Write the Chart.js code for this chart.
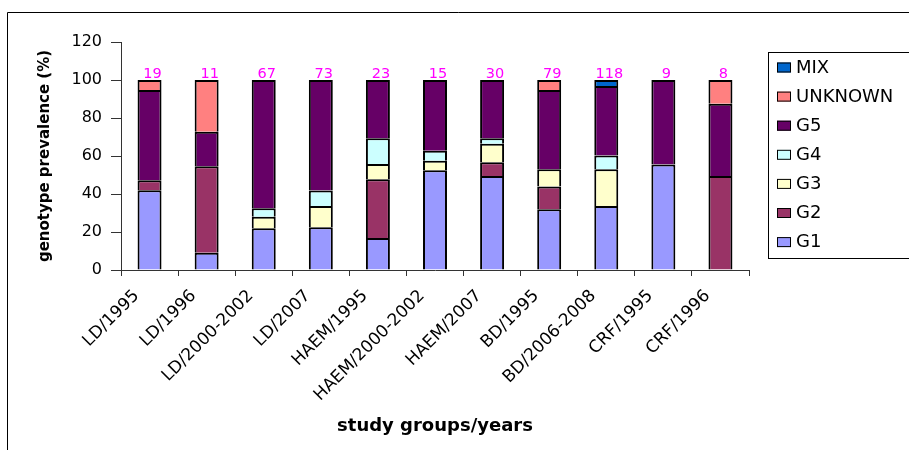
<!DOCTYPE html>
<html>
<head>
<meta charset="utf-8">
<script src="https://cdn.jsdelivr.net/npm/chart.js@4.4.1/dist/chart.umd.min.js"></script>
<style>
  html, body { margin: 0; padding: 0; background: #fff; }
  canvas { display: block; }
</style>
</head>
<body>
<canvas id="c" width="909" height="450"></canvas>
<script>
// ---- data ----
const categories = ['LD/1995','LD/1996','LD/2000-2002','LD/2007','HAEM/1995','HAEM/2000-2002','HAEM/2007','BD/1995','BD/2006-2008','CRF/1995','CRF/1996'];
const sampleSizes = [19, 11, 67, 73, 23, 15, 30, 79, 118, 9, 8];
const G1      = [42.0,  9.1, 22.0, 22.5, 16.8, 52.5, 49.5, 32.0, 33.7, 55.5,  0];
const G2      = [ 5.3, 45.5,  0,    0,   30.9,  0,    7.2, 12.0,  0,    0,   49.5];
const G3      = [ 0,    0,    6.0, 11.2,  8.1,  5.0,  9.8,  9.0, 19.3,  0,    0];
const G4      = [ 0,    0,    4.5,  8.2, 13.5,  5.3,  2.8,  0,    7.3,  0,    0];
const G5      = [47.4, 18.2, 67.5, 58.1, 30.7, 37.2, 30.7, 41.7, 36.5, 44.5, 38.0];
const UNKNOWN = [ 5.3, 27.2,  0,    0,    0,    0,    0,    5.3,  0,    0,   12.5];
const MIX     = [ 0,    0,    0,    0,    0,    0,    0,    0,    3.2,  0,    0];
const yTicks  = [0, 20, 40, 60, 80, 100, 120];

const FONT = "'DejaVu Sans', 'Liberation Sans', Arial, sans-serif";

const series = [
  { label: 'G1', data: G1, color: '#9999FF' },
  { label: 'G2', data: G2, color: '#993366' },
  { label: 'G3', data: G3, color: '#FFFFCC' },
  { label: 'G4', data: G4, color: '#CCFFFF' },
  { label: 'G5', data: G5, color: '#660066' },
  { label: 'UNKNOWN', data: UNKNOWN, color: '#FF8080' },
  { label: 'MIX', data: MIX, color: '#0066CC' }
];

const datasets = series.map(s => ({
  label: s.label,
  data: s.data,
  backgroundColor: s.color,
  borderColor: '#000000',
  borderWidth: 2,
  borderSkipped: 'start',
  barPercentage: 0.42,
  categoryPercentage: 1.0
}));

// frame around the whole chart
const framePlugin = {
  id: 'frame',
  beforeDraw(chart) {
    const ctx = chart.ctx;
    ctx.save();
    ctx.strokeStyle = '#000';
    ctx.lineWidth = 1;
    ctx.beginPath();
    ctx.moveTo(7.5, chart.height);
    ctx.lineTo(7.5, 12.5);
    ctx.lineTo(chart.width, 12.5);
    ctx.stroke();
    ctx.restore();
  }
};

// sample-size labels above each stacked bar
const countPlugin = {
  id: 'counts',
  afterDatasetsDraw(chart) {
    const ctx = chart.ctx;
    const meta = chart.getDatasetMeta(0);
    const y = chart.scales.y;
    ctx.save();
    ctx.fillStyle = '#FF00FF';
    ctx.font = "14.5px " + FONT;
    ctx.textAlign = 'center';
    ctx.textBaseline = 'alphabetic';
    categories.forEach((c, i) => {
      let total = 0;
      chart.data.datasets.forEach(d => { total += d.data[i] || 0; });
      const x = meta.data[i].x + 3;
      ctx.fillText(String(sampleSizes[i]), x, y.getPixelForValue(total) - 2);
    });
    ctx.restore();
  }
};

// boxed legend on the right, top item = last series
const legendPlugin = {
  id: 'boxLegend',
  afterDraw(chart) {
    const ctx = chart.ctx;
    const items = chart.data.datasets.slice().reverse();
    const left = 768.5, top = 52.5, bottom = 258.5;
    ctx.save();
    ctx.strokeStyle = '#000';
    ctx.lineWidth = 1;
    ctx.strokeRect(left, top, 160, bottom - top);
    ctx.font = "18px " + FONT;
    ctx.textBaseline = 'middle';
    ctx.textAlign = 'left';
    items.forEach((d, k) => {
      const cy = 67.5 + k * 29.1;
      ctx.fillStyle = d.backgroundColor;
      ctx.fillRect(777, cy - 5, 14, 10);
      ctx.strokeStyle = '#000';
      ctx.strokeRect(777.5, cy - 4.5, 13, 9);
      ctx.fillStyle = '#000';
      ctx.fillText(d.label, 796, cy + 0.5);
    });
    ctx.restore();
  }
};

new Chart(document.getElementById('c'), {
  type: 'bar',
  data: { labels: categories, datasets },
  options: {
    responsive: false,
    animation: false,
    devicePixelRatio: 1,
    layout: { padding: { left: 0, right: 160, top: 42, bottom: 0 } },
    plugins: {
      legend: { display: false },
      tooltip: { enabled: false },
      title: { display: false }
    },
    scales: {
      x: {
        stacked: true,
        grid: { display: true, drawOnChartArea: false, drawTicks: true, tickLength: 6, color: '#333', offset: true },
        border: { display: true, color: '#333', width: 1 },
        ticks: {
          autoSkip: false,
          maxRotation: 45,
          minRotation: 45,
          padding: 10,
          labelOffset: -13,
          color: '#000',
          font: { family: FONT, size: 17 }
        },
        title: {
          display: true,
          text: 'study groups/years',
          color: '#000',
          font: { family: FONT, size: 18, weight: 'bold' },
          padding: { top: 0, bottom: 13 }
        },
        afterFit(s) { s.height = 180; }
      },
      y: {
        stacked: true,
        min: 0,
        max: 120,
        afterBuildTicks(s) { s.ticks = yTicks.map(v => ({ value: v })); },
        grid: { display: true, drawOnChartArea: false, drawTicks: true, tickLength: 10, color: '#333' },
        border: { display: true, color: '#333', width: 1 },
        ticks: {
          padding: 9,
          color: '#000',
          font: { family: FONT, size: 16 }
        },
        title: {
          display: true,
          text: 'genotype prevalence (%)',
          color: '#000',
          font: { family: FONT, size: 15, weight: 'bold' },
          padding: { top: 36, bottom: 0 }
        },
        afterFit(s) { s.width = 121; }
      }
    }
  },
  plugins: [framePlugin, countPlugin, legendPlugin]
});
</script>
</body>
</html>
